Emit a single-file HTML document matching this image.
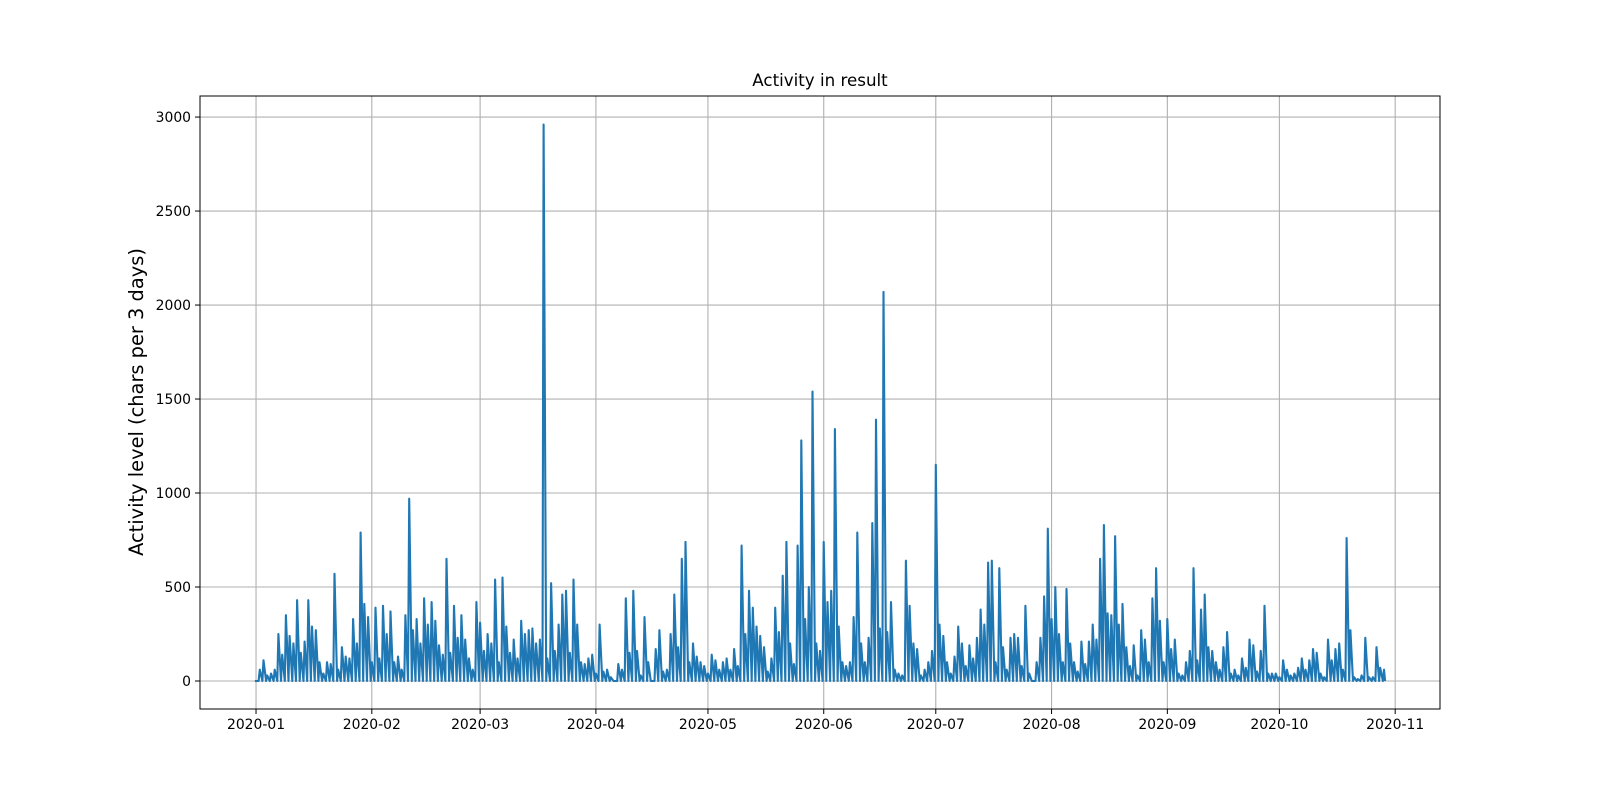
<!DOCTYPE html>
<html><head><meta charset="utf-8"><title>Activity in result</title>
<style>html,body{margin:0;padding:0;background:#fff}svg{display:block}text{font-family:"DejaVu Sans","Liberation Sans",sans-serif;fill:#000}</style>
</head><body>
<svg id="chart" width="1600" height="797" viewBox="0 0 1600 797" xmlns="http://www.w3.org/2000/svg">
<rect x="0" y="0" width="1600" height="797" fill="#fff"/>
<g id="grid"></g>
<g id="series"></g>
<rect x="200" y="96" width="1240" height="613" fill="none" stroke="#000" stroke-width="1"/>
<g id="ticks"></g>
<text x="820" y="86" text-anchor="middle" font-size="16.7">Activity in result</text>
<text transform="translate(143,402) rotate(-90)" text-anchor="middle" font-size="19.4">Activity level (chars per 3 days)</text>
</svg>
<script>
const values = [0,60,110,30,40,60,250,140,350,240,200,430,150,210,430,290,270,100,40,100,90,570,60,180,130,120,330,200,790,410,340,
100,390,120,400,250,370,100,130,60,350,970,270,330,200,440,300,420,320,190,140,650,150,400,230,350,220,120,60,420,
310,160,250,200,540,100,550,290,150,220,120,320,250,270,280,200,220,2960,120,520,160,300,460,480,150,540,300,100,90,120,140,
40,300,50,60,20,0,90,60,440,150,480,160,30,340,100,0,170,270,50,60,250,460,180,650,740,100,200,130,100,80,
40,140,110,60,100,120,60,170,80,720,250,480,390,290,240,180,50,120,390,260,560,740,200,90,720,1280,330,500,1540,200,160,
740,420,480,1340,290,100,80,100,340,790,200,100,230,840,1390,280,2070,260,420,60,40,30,640,400,200,170,30,60,100,160,
1150,300,240,100,40,130,290,200,80,190,120,230,380,300,630,640,100,600,180,60,230,250,230,80,400,40,0,100,230,450,810,
330,500,250,100,490,200,100,50,210,90,210,300,220,650,830,360,350,770,300,410,180,80,190,30,270,220,100,440,600,320,100,
330,170,220,40,30,100,160,600,110,380,460,180,160,100,60,180,260,40,60,30,120,70,220,190,50,160,400,40,40,40,
20,110,60,30,40,70,120,60,110,170,150,40,20,220,110,170,200,60,760,270,20,10,30,230,20,20,180,70,60];
const yTicks = [0,500,1000,1500,2000,2500,3000];
const xTickLabels = ["2020-01","2020-02","2020-03","2020-04","2020-05","2020-06","2020-07","2020-08","2020-09","2020-10","2020-11"];
const xTickDays = [0,31,60,91,121,152,182,213,244,274,305];

const L=200,R=1440,T=96,B=709;
const xMin=-15,xMax=317,yMin=-149,yMax=3112;
const xs=d=>L+(d-xMin)/(xMax-xMin)*(R-L);
const ys=v=>B-(v-yMin)/(yMax-yMin)*(B-T);
const NS="http://www.w3.org/2000/svg";
const grid=document.getElementById('grid'),ticks=document.getElementById('ticks'),series=document.getElementById('series');
function mk(tag,attrs,parent){const e=document.createElementNS(NS,tag);for(const k in attrs)e.setAttribute(k,attrs[k]);parent.appendChild(e);return e;}
xTickDays.forEach((d,i)=>{const x=xs(d);
 const g=mk('line',{x1:x,x2:x,y1:T,y2:B,stroke:'#b0b0b0','stroke-width':1.1},grid);
 
 
 const t=mk('line',{x1:x,x2:x,y1:B,y2:B+5,stroke:'#000','stroke-width':1},ticks);
 
 
 const lb=mk('text',{x:x,y:B+20,'text-anchor':'middle','font-size':13.9},ticks);
 lb.textContent=xTickLabels[i];
 
 
});
yTicks.forEach(v=>{const y=ys(v);
 const g=mk('line',{x1:L,x2:R,y1:y,y2:y,stroke:'#b0b0b0','stroke-width':1.1},grid);
 
 
 const t=mk('line',{x1:L-5,x2:L,y1:y,y2:y,stroke:'#000','stroke-width':1},ticks);
 
 
 const lb=mk('text',{x:L-9,y:y+5,'text-anchor':'end','font-size':13.9},ticks);
 lb.textContent=String(v);
 
 
});
let pts=[];
values.forEach((v,i)=>{pts.push([xs(i-0.3),ys(0)]);pts.push([xs(i),ys(v)]);});
pts.push([xs(values.length-1+0.3),ys(0)]);
const p=mk('polyline',{points:pts.map(q=>q[0].toFixed(1)+','+q[1].toFixed(1)).join(' '),fill:'none',stroke:'#1f77b4','stroke-width':2.1,'stroke-linejoin':'round'},series);


</script>
</body></html>
